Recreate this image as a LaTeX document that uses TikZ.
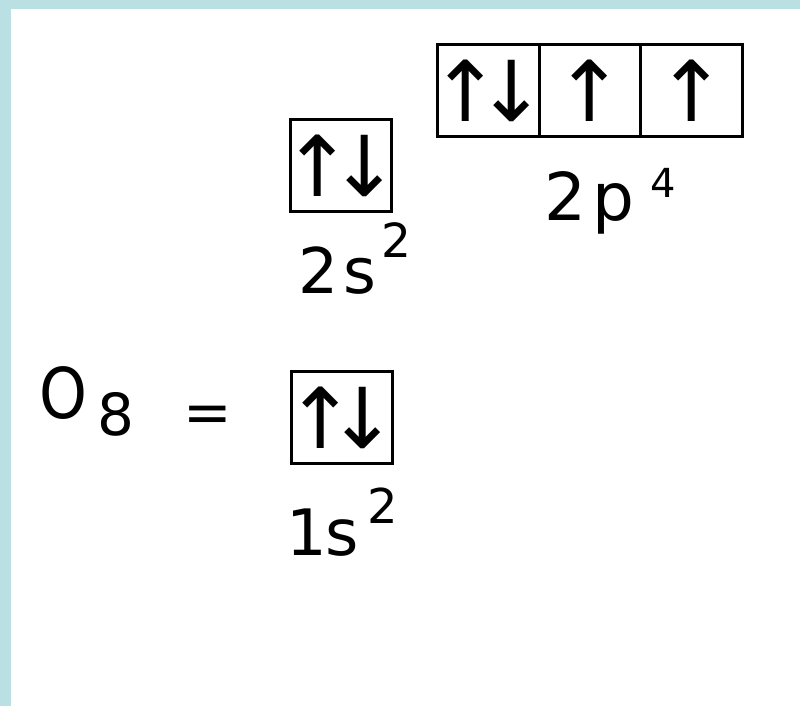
\documentclass[tikz,border=0pt]{standalone}
\usepackage{fontspec}
\setmainfont{DejaVu Sans}
\definecolor{frame}{RGB}{187,224,227}
\tikzset{
  orb/.style={draw=black, line width=3pt, inner sep=0pt, minimum height=92pt,
    font=\fontsize{84}{84}\selectfont},
  lbl/.style={inner sep=0pt, anchor=base west},
}
\newcommand{\updn}[1]{\makebox[0pt]{↑\kern#1↓}}
\begin{document}
\begin{tikzpicture}[x=1pt,y=-1pt]
\useasboundingbox (0,0) rectangle (800,706);
\fill[frame] (0,0) rectangle (800,9);
\fill[frame] (0,0) rectangle (11,706);
% 2p orbitals
\node[orb, minimum width=101.5pt] (p1) at (488.5,90.5) {\updn{-25pt}};
\node[orb, minimum width=101.5pt] (p2) at (590,90.5) {\makebox[0pt]{↑}};
\node[orb, minimum width=101.5pt] (p3) at (691.5,90.5) {\makebox[0pt]{↑}};
\node[lbl, font=\fontsize{66}{66}\selectfont] (l2p) at (544,220) {2\kern6pt p\raisebox{23pt}{\hspace{16pt}\fontsize{40}{40}\selectfont 4}};
% 2s orbital
\node[orb, minimum width=101pt] (s2) at (341,165.5) {\updn{-24pt}};
\node[lbl, font=\fontsize{63}{63}\selectfont] (l2s) at (298,293) {2\kern5pt s\raisebox{36pt}{\hspace{5pt}\fontsize{47}{47}\selectfont 2}};
% 1s orbital
\node[orb, minimum width=101pt] (s1) at (341.5,417.5) {\updn{-28pt}};
\node[lbl, font=\fontsize{64}{64}\selectfont] (l1s) at (286,555) {1\kern-1pt s\raisebox{32pt}{\hspace{8pt}\fontsize{48}{48}\selectfont 2}};
% O_8 =
\node[lbl, xscale=0.87, font=\fontsize{70}{70}\selectfont] (O) at (39,418) {O};
\node[lbl, font=\fontsize{58}{58}\selectfont] (sub) at (97,435) {8};
\node[inner sep=0pt, font=\fontsize{58}{58}\selectfont] (eq) at (207.5,419) {=};
\end{tikzpicture}
\end{document}
